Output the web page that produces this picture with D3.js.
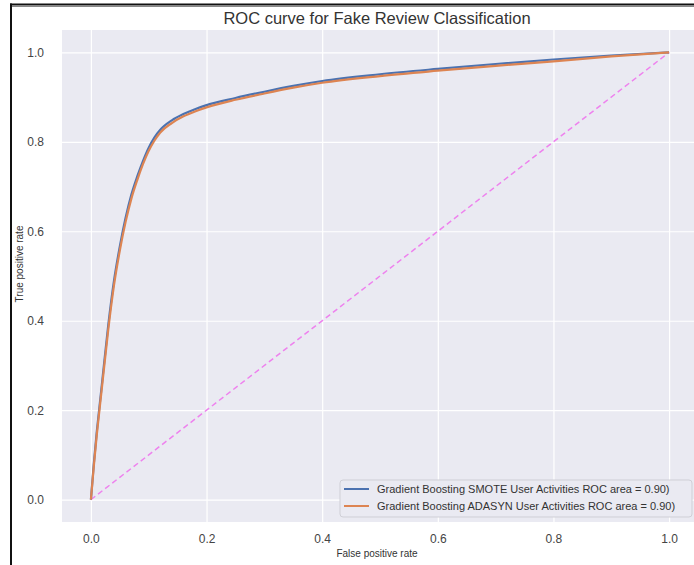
<!DOCTYPE html>
<html>
<head>
<meta charset="utf-8">
<script src="https://cdn.jsdelivr.net/npm/d3@7"></script>
<style>
  body { margin: 0; background: #fff; }
  svg { display: block; font-family: "Liberation Sans", Arial, sans-serif; }
</style>
</head>
<body>
<div id="chart"></div>
<script>
// ROC points
var fpr = [0, 0.005, 0.01, 0.015, 0.02, 0.03, 0.04, 0.05, 0.06, 0.07, 0.08, 0.09, 0.1, 0.11, 0.12, 0.14, 0.16, 0.18, 0.2, 0.25, 0.3, 0.35, 0.4, 0.5, 0.6, 0.7, 0.8, 0.9, 1.0];
var tprSmote = [0, 0.08, 0.15, 0.21, 0.27, 0.39, 0.49, 0.566, 0.63, 0.682, 0.722, 0.757, 0.787, 0.81, 0.827, 0.848, 0.862, 0.873, 0.882, 0.898, 0.912, 0.925, 0.936, 0.951, 0.963, 0.974, 0.984, 0.993, 1.0];
var tprAdasyn = [0, 0.075, 0.143, 0.203, 0.262, 0.38, 0.48, 0.557, 0.621, 0.673, 0.714, 0.75, 0.78, 0.803, 0.821, 0.842, 0.857, 0.868, 0.877, 0.894, 0.908, 0.921, 0.932, 0.947, 0.959, 0.97, 0.98, 0.991, 1.0];
var seriesNames = ["Gradient Boosting SMOTE User Activities ROC area = 0.90)",
                   "Gradient Boosting ADASYN User Activities ROC area = 0.90)"];
var seriesColors = ["#4c72b0", "#dd8452"];
var ticks = [0, 0.2, 0.4, 0.6, 0.8, 1.0];

var W = 694, H = 565;
var plot = {left: 62, top: 30, right: 698, bottom: 522};

var svg = d3.select("#chart").append("svg")
  .attr("width", W)
  .attr("height", H);

var xScale = d3.scaleLinear().domain([-0.05, 1.05]).range([plot.left, plot.right]);
var yScale = d3.scaleLinear().domain([-0.05, 1.05]).range([plot.bottom, plot.top]);

svg.append("rect")
  .attr("x", plot.left).attr("y", plot.top)
  .attr("width", plot.right - plot.left).attr("height", plot.bottom - plot.top)
  .attr("fill", "#eaeaf2");

// grid
var gx = svg.append("g").attr("transform", "translate(0," + plot.bottom + ")")
  .call(d3.axisBottom(xScale).tickValues(ticks).tickSize(-(plot.bottom - plot.top)).tickPadding(12).tickFormat(d3.format(".1f")));
var gy = svg.append("g").attr("transform", "translate(" + plot.left + ",0)")
  .call(d3.axisLeft(yScale).tickValues(ticks).tickSize(-(plot.right - plot.left)).tickPadding(12).tickFormat(d3.format(".1f")));
[gx, gy].forEach(function(g) {
  g.select(".domain").remove();
  g.selectAll(".tick line").attr("stroke", "#fff").attr("stroke-width", 1.2);
  g.selectAll(".tick text").attr("fill", "#444").style("font-size", "12px");
});
gy.selectAll(".tick text").attr("dx", "-0.5em");

// diagonal
svg.append("line")
  .attr("x1", xScale(0)).attr("y1", yScale(0))
  .attr("x2", xScale(1)).attr("y2", yScale(1))
  .attr("stroke", "#ee82ee").attr("stroke-width", 1.5)
  .attr("stroke-dasharray", "5.5,3.5");

var line = d3.line()
  .x(function(d) { return xScale(d[0]); })
  .y(function(d) { return yScale(d[1]); })
  .curve(d3.curveMonotoneX);

[tprSmote, tprAdasyn].forEach(function(tpr, i) {
  svg.append("path")
    .datum(fpr.map(function(f, j) { return [f, tpr[j]]; }))
    .attr("d", line)
    .attr("fill", "none")
    .attr("stroke", seriesColors[i])
    .attr("stroke-width", 2.2);
});

// title and axis labels
svg.append("text")
  .attr("x", 377).attr("y", 24)
  .attr("text-anchor", "middle")
  .attr("fill", "#333")
  .style("font-size", "16.5px")
  .text("ROC curve for Fake Review Classification");

svg.append("text")
  .attr("x", 377).attr("y", 557)
  .attr("text-anchor", "middle")
  .attr("fill", "#333")
  .style("font-size", "10px")
  .text("False positive rate");

svg.append("text")
  .attr("transform", "translate(23,264) rotate(-90)")
  .attr("text-anchor", "middle")
  .attr("fill", "#333")
  .style("font-size", "10px")
  .text("True positive rate");

// legend
var legend = svg.append("g");
legend.append("rect")
  .attr("x", 340).attr("y", 480).attr("width", 352).attr("height", 37)
  .attr("rx", 3)
  .attr("fill", "#eaeaf2").attr("stroke", "#cfcfd6");
seriesNames.forEach(function(name, i) {
  var y = 489 + i * 17;
  legend.append("line")
    .attr("x1", 344).attr("x2", 369).attr("y1", y).attr("y2", y)
    .attr("stroke", seriesColors[i]).attr("stroke-width", 2);
  legend.append("text")
    .attr("x", 377).attr("y", y + 4)
    .attr("fill", "#333")
    .style("font-size", "11px")
    .text(name);
});

// frame of the screenshot
svg.append("line").attr("x1", 10).attr("x2", W).attr("y1", 4.5).attr("y2", 4.5)
  .attr("stroke", "#111").attr("stroke-width", 2);
svg.append("line").attr("x1", 10).attr("x2", W).attr("y1", 6.5).attr("y2", 6.5)
  .attr("stroke", "#888").attr("stroke-width", 1);
svg.append("line").attr("x1", 11).attr("x2", 11).attr("y1", 3.5).attr("y2", H)
  .attr("stroke", "#111").attr("stroke-width", 2);
</script>
</body>
</html>
